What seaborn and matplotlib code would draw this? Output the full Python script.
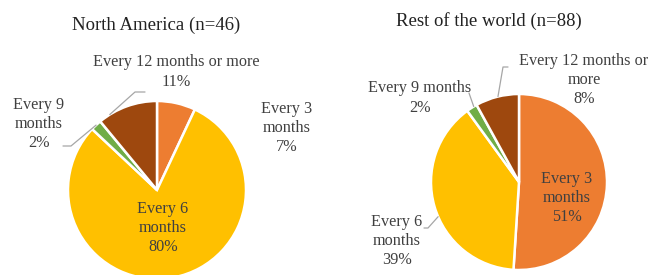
import matplotlib.pyplot as plt
import seaborn as sns
import numpy as np

# data
categories = ['Every 3 months', 'Every 6 months', 'Every 9 months', 'Every 12 months or more']
na_values = [7, 80, 2, 11]
row_values = [51, 39, 2, 8]
na_names = ['Every 3\nmonths', 'Every 6\nmonths', 'Every 9\nmonths', 'Every 12 months or more']
row_names = ['Every 3\nmonths', 'Every 6\nmonths', 'Every 9 months', 'Every 12 months or\nmore']
titles = ['North America (n=46)', 'Rest of the world (n=88)']

W, H = 652, 275

sns.set_style('white')
plt.rcParams['font.family'] = ['Liberation Serif', 'DejaVu Serif']
palette = sns.color_palette(['#ED7D31', '#FFC000', '#70AD47', '#9E480E'])

# layout (pixels, top-left origin)
pies = [
    dict(values=na_values, names=na_names, title=titles[0], cx=157, cy=190, r=89,
         x0=0, x1=326, title_pos=(156, 25),
         label_pos=[(287, 128), (163, 228), (39, 124), (176, 72)],
         leaders={2: (0.5, (71, 146), (63, 146)), 3: (0.81, (135, 92), (145, 92))}),
    dict(values=row_values, names=row_names, title=titles[1], cx=519, cy=182, r=88,
         x0=326, x1=652, title_pos=(489, 21),
         label_pos=[(567, 198), (397, 241), (420, 98), (584, 80)],
         leaders={1: (0.55, (428, 228), (424, 228)), 2: (0.3, (469, 93), (469, 93)),
                  3: (0.48, (503, 67), (508, 67))}),
]

fig = plt.figure(figsize=(W / 100, H / 100), dpi=100)

for p in pies:
    ax = fig.add_axes([p['x0'] / W, 0, (p['x1'] - p['x0']) / W, 1])
    cx, cy, r = p['cx'], p['cy'], p['r']

    def px(pt):
        return ((pt[0] - cx) / r, (cy - pt[1]) / r)

    wedges, _ = ax.pie(p['values'], colors=palette, startangle=90, counterclock=False,
                       wedgeprops=dict(edgecolor='white', linewidth=1.8))
    ax.set_aspect('auto')
    ax.set_xlim((p['x0'] - cx) / r, (p['x1'] - cx) / r)
    ax.set_ylim((cy - H) / r, cy / r)
    ax.axis('off')

    for i, (name, v) in enumerate(zip(p['names'], p['values'])):
        ax.text(*px(p['label_pos'][i]), f'{name}\n{v}%', ha='center', va='center',
                fontsize=11.7, color='#404040', linespacing=1.27)

    for i, (t, elbow, end) in p['leaders'].items():
        w = wedges[i]
        ang = np.deg2rad(w.theta1 + t * (w.theta2 - w.theta1))
        start = (np.cos(ang), np.sin(ang))
        e, f = px(elbow), px(end)
        ax.plot([start[0], e[0], f[0]], [start[1], e[1], f[1]], color='#A6A6A6', lw=0.9)

    ax.text(*px(p['title_pos']), p['title'], ha='center', va='center',
            fontsize=13.5, color='#222222')

fig.savefig('out.png', dpi=100)
